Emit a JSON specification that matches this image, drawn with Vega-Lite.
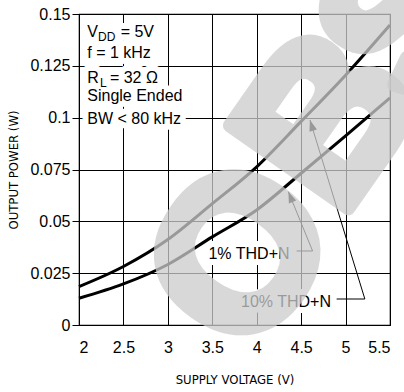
{
  "$schema": "https://vega.github.io/schema/vega-lite/v6.json",
  "width": 311,
  "height": 311,
  "autosize": "none",
  "padding": {"left": 79, "top": 14, "right": 14, "bottom": 67},
  "background": "white",
  "config": {
    "view": {"stroke": "black", "strokeWidth": 1.2},
    "font": "Liberation Sans",
    "axis": {
      "labelFont": "Liberation Sans",
      "labelFontSize": 16,
      "labelColor": "black",
      "titleFont": "DejaVu Sans Condensed, Liberation Sans Narrow, Liberation Sans",
      "titleFontSize": 13,
      "titleFontWeight": "normal",
      "titleColor": "black",
      "gridColor": "black",
      "gridOpacity": 1,
      "gridWidth": 1,
      "domain": false,
      "tickColor": "black"
    }
  },
  "datasets": {
    "curves": [
      {"v": 2.0, "p": 0.0185, "s": "10%"},
      {"v": 2.5, "p": 0.0282, "s": "10%"},
      {"v": 3.0, "p": 0.0412, "s": "10%"},
      {"v": 3.5, "p": 0.0585, "s": "10%"},
      {"v": 4.0, "p": 0.0763, "s": "10%"},
      {"v": 4.5, "p": 0.0982, "s": "10%"},
      {"v": 5.0, "p": 0.1205, "s": "10%"},
      {"v": 5.5, "p": 0.1447, "s": "10%"},
      {"v": 2.0, "p": 0.0129, "s": "1%"},
      {"v": 2.5, "p": 0.0198, "s": "1%"},
      {"v": 3.0, "p": 0.0292, "s": "1%"},
      {"v": 3.5, "p": 0.0425, "s": "1%"},
      {"v": 4.0, "p": 0.0555, "s": "1%"},
      {"v": 4.5, "p": 0.0732, "s": "1%"},
      {"v": 5.0, "p": 0.0912, "s": "1%"},
      {"v": 5.5, "p": 0.1095, "s": "1%"}
    ],
    "notes": [
      {"x": 2.093, "y": 0.1390, "t": "V"},
      {"x": 2.469, "y": 0.1390, "t": "= 5V"},
      {"x": 2.093, "y": 0.1286, "t": "f = 1 kHz"},
      {"x": 2.093, "y": 0.1167, "t": "R"},
      {"x": 2.348, "y": 0.1167, "t": "= 32 Ω"},
      {"x": 2.093, "y": 0.1080, "t": "Single Ended"},
      {"x": 2.093, "y": 0.0969, "t": "BW < 80 kHz"}
    ],
    "subs": [
      {"x": 2.215, "y": 0.1372, "t": "DD"},
      {"x": 2.237, "y": 0.1150, "t": "L"}
    ],
    "labels": [
      {"x": 3.457, "y": 0.0318, "t": "1% THD+N"},
      {"x": 3.823, "y": 0.00854, "t": "10% THD+N"}
    ],
    "leaders": [
      {"x": 4.449, "y": 0.0357, "x2": 4.629, "y2": 0.0357},
      {"x": 4.629, "y": 0.0357, "x2": 4.356, "y2": 0.0643},
      {"x": 4.899, "y": 0.01254, "x2": 5.217, "y2": 0.01254},
      {"x": 5.217, "y": 0.01254, "x2": 4.599, "y2": 0.0989}
    ],
    "heads": [
      {"x": 4.356, "y": 0.0643, "a": "1%"},
      {"x": 4.599, "y": 0.0989, "a": "10%"}
    ],
    "mark": [
      {"x": 3.87, "y": 0.0325, "t": "O"},
      {"x": 4.849, "y": 0.0982, "t": "B"},
      {"x": 5.726, "y": 0.1483, "t": "S"}
    ]
  },
  "layer": [
    {
      "data": {"name": "curves"},
      "mark": {"type": "line", "color": "black", "strokeWidth": 3, "interpolate": "monotone"},
      "encoding": {
        "x": {
          "field": "v", "type": "quantitative",
          "scale": {"domain": [2, 5.5], "nice": false, "zero": false},
          "axis": {
            "values": [2, 2.5, 3, 3.5, 4, 4.5, 5, 5.5],
            "labelExpr": "'' + datum.value",
            "title": "SUPPLY VOLTAGE (V)",
            "grid": true,
            "ticks": false,
            "labelPadding": 14,
            "titlePadding": 18
          }
        },
        "y": {
          "field": "p", "type": "quantitative",
          "scale": {"domain": [0, 0.15], "nice": false},
          "axis": {
            "values": [0, 0.025, 0.05, 0.075, 0.1, 0.125, 0.15],
            "labelExpr": "'' + datum.value",
            "title": "OUTPUT POWER (W)",
            "grid": true,
            "ticks": true,
            "tickSize": 7,
            "labelPadding": 2,
            "titlePadding": 9
          }
        },
        "detail": {"field": "s"}
      }
    },
    {
      "data": {"name": "leaders"},
      "mark": {"type": "rule", "color": "black", "strokeWidth": 1},
      "encoding": {
        "x": {"field": "x", "type": "quantitative"},
        "y": {"field": "y", "type": "quantitative"},
        "x2": {"field": "x2"},
        "y2": {"field": "y2"}
      }
    },
    {
      "data": {"name": "heads"},
      "transform": [{"filter": "datum.a === '1%'"}],
      "mark": {"type": "point", "shape": "M0,0L-0.35,1L0.35,1Z", "filled": true, "color": "black", "opacity": 1, "size": 500, "angle": 338},
      "encoding": {
        "x": {"field": "x", "type": "quantitative"},
        "y": {"field": "y", "type": "quantitative"}
      }
    },
    {
      "data": {"name": "heads"},
      "transform": [{"filter": "datum.a === '10%'"}],
      "mark": {"type": "point", "shape": "M0,0L-0.35,1L0.35,1Z", "filled": true, "color": "black", "opacity": 1, "size": 500, "angle": 343},
      "encoding": {
        "x": {"field": "x", "type": "quantitative"},
        "y": {"field": "y", "type": "quantitative"}
      }
    },
    {
      "data": {"name": "notes"},
      "mark": {"type": "text", "align": "left", "baseline": "alphabetic", "font": "Liberation Sans", "fontSize": 16, "fill": "white", "stroke": "white", "strokeWidth": 12, "strokeJoin": "round"},
      "encoding": {
        "x": {"field": "x", "type": "quantitative"},
        "y": {"field": "y", "type": "quantitative"},
        "text": {"field": "t"}
      }
    },
    {
      "data": {"name": "labels"},
      "mark": {"type": "text", "align": "left", "baseline": "alphabetic", "font": "Liberation Sans", "fontSize": 16, "fill": "white", "stroke": "white", "strokeWidth": 12, "strokeJoin": "round"},
      "encoding": {
        "x": {"field": "x", "type": "quantitative"},
        "y": {"field": "y", "type": "quantitative"},
        "text": {"field": "t"}
      }
    },
    {
      "data": {"name": "notes"},
      "mark": {"type": "text", "align": "left", "baseline": "alphabetic", "font": "Liberation Sans", "fontSize": 16, "color": "black"},
      "encoding": {
        "x": {"field": "x", "type": "quantitative"},
        "y": {"field": "y", "type": "quantitative"},
        "text": {"field": "t"}
      }
    },
    {
      "data": {"name": "subs"},
      "mark": {"type": "text", "align": "left", "baseline": "alphabetic", "font": "Liberation Sans", "fontSize": 12, "color": "black"},
      "encoding": {
        "x": {"field": "x", "type": "quantitative"},
        "y": {"field": "y", "type": "quantitative"},
        "text": {"field": "t"}
      }
    },
    {
      "data": {"name": "labels"},
      "mark": {"type": "text", "align": "left", "baseline": "alphabetic", "font": "Liberation Sans", "fontSize": 16, "color": "black"},
      "encoding": {
        "x": {"field": "x", "type": "quantitative"},
        "y": {"field": "y", "type": "quantitative"},
        "text": {"field": "t"}
      }
    },
    {
      "data": {"name": "mark"},
      "mark": {"type": "text", "align": "center", "baseline": "middle", "font": "Liberation Sans", "fontWeight": "bold", "fontSize": 210, "angle": 305, "fill": "#cccccc", "stroke": "#cccccc", "strokeWidth": 14, "strokeJoin": "round", "opacity": 0.75},
      "encoding": {
        "x": {"field": "x", "type": "quantitative"},
        "y": {"field": "y", "type": "quantitative"},
        "text": {"field": "t"}
      }
    }
  ]
}
